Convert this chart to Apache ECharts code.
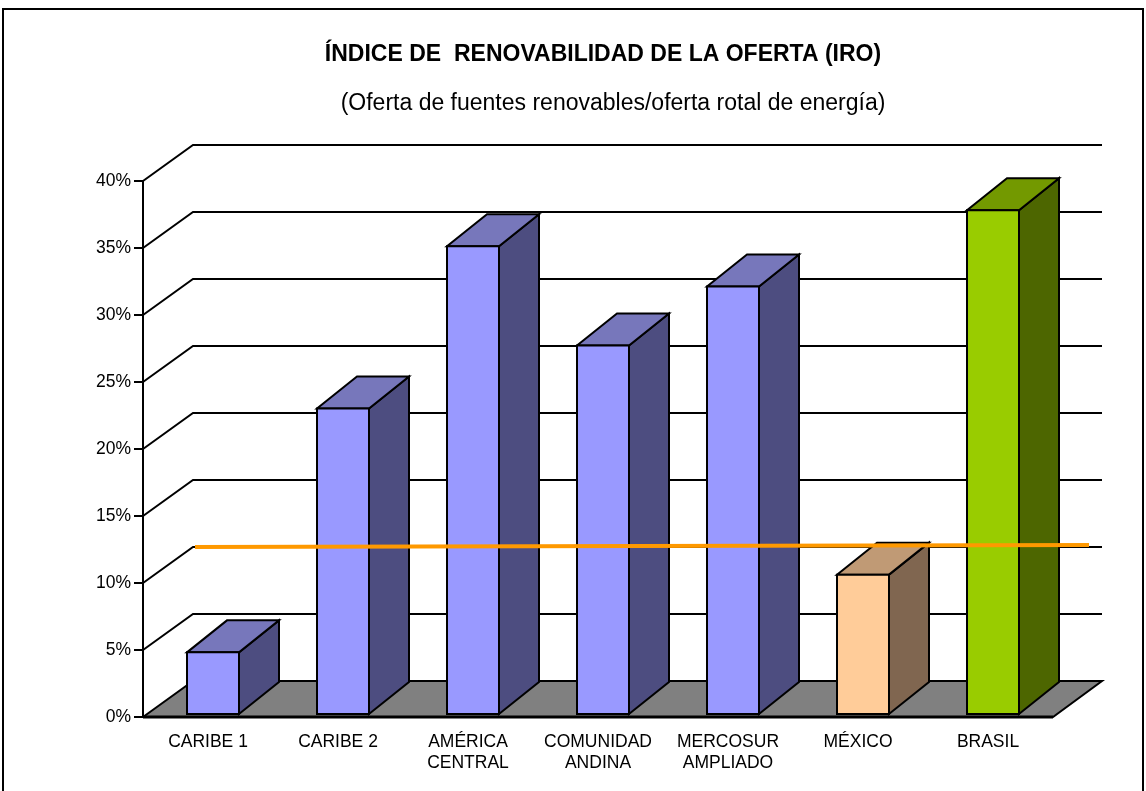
<!DOCTYPE html>
<html>
<head>
<meta charset="utf-8">
<script src="https://cdn.jsdelivr.net/npm/echarts@6/dist/echarts.min.js"></script>
<style>
html, body { margin: 0; padding: 0; background: #fff; }
#main { width: 1146px; height: 791px; }
</style>
</head>
<body>
<div id="main"></div>
<script>
// datos
var categories = ['CARIBE 1', 'CARIBE 2', 'AMÉRICA\nCENTRAL', 'COMUNIDAD\nANDINA', 'MERCOSUR\nAMPLIADO', 'MÉXICO', 'BRASIL'];
var iroValues = [4.6, 22.8, 34.9, 27.5, 31.9, 10.4, 37.6];
var yTicks = [0, 5, 10, 15, 20, 25, 30, 35, 40];
var refLine = [10.0, 10.15]; // linea naranja (inicio, fin) sobre la pared del fondo

// estilos 3d
var DEPTH = [50, -36];      // profundidad del piso
var BAR_FRONT = [5, -3];    // cara frontal de la barra
var BAR_DEPTH = [40, -32];  // profundidad de la barra
var blue = { front: '#9999FF', top: '#7777BB', side: '#4D4D80' };
var barColors = [blue, blue, blue, blue, blue,
    { front: '#FFCC99', top: '#C09A75', side: '#806650' },
    { front: '#99CC00', top: '#739900', side: '#4D6600' }];

var dom = document.getElementById('main');
var myChart = echarts.init(dom);
var font = 'Liberation Sans, Arial, sans-serif';

function gridRender(params, api) {
    var cs = params.coordSys;
    var y = api.coord([0, api.value(1)])[1];
    if (api.value(1) === 0) return null;
    return {
        type: 'polyline',
        shape: { points: [[cs.x, y], [cs.x + DEPTH[0], y + DEPTH[1]], [cs.x + cs.width + DEPTH[0] - 1, y + DEPTH[1]]] },
        style: { fill: null, stroke: '#000', lineWidth: 2 }
    };
}

function floorRender(params, api) {
    var cs = params.coordSys;
    var y = api.coord([0, 0])[1];
    var x0 = cs.x, x1 = cs.x + cs.width;
    return {
        type: 'group',
        children: [{
            type: 'polygon',
            shape: { points: [[x0, y], [x0 + DEPTH[0], y + DEPTH[1]], [x1 + DEPTH[0] - 1, y + DEPTH[1]], [x1, y]] },
            style: { fill: '#808080', stroke: '#000', lineWidth: 2 }
        }, {
            type: 'line',
            shape: { x1: x0, y1: y, x2: x1, y2: y },
            style: { stroke: '#000', lineWidth: 3 }
        }]
    };
}

function barRender(params, api) {
    var idx = api.value(0);
    var top = api.coord([idx, api.value(1)]);
    var base = api.coord([idx, 0]);
    var w = api.size([1, 0])[0] * 0.4;
    var c = barColors[idx];
    var x0 = top[0] - w / 2 + BAR_FRONT[0];
    var x1 = x0 + w;
    var yT = top[1] + BAR_FRONT[1];
    var yB = base[1] + BAR_FRONT[1];
    var dx = BAR_DEPTH[0], dy = BAR_DEPTH[1];
    var st = { stroke: '#000', lineWidth: 2, lineJoin: 'miter' };
    return {
        type: 'group',
        children: [{
            type: 'polygon',
            shape: { points: [[x1, yT], [x1 + dx, yT + dy], [x1 + dx, yB + dy], [x1, yB]] },
            style: Object.assign({ fill: c.side }, st)
        }, {
            type: 'polygon',
            shape: { points: [[x0, yT], [x1, yT], [x1 + dx, yT + dy], [x0 + dx, yT + dy]] },
            style: Object.assign({ fill: c.top }, st)
        }, {
            type: 'rect',
            shape: { x: x0, y: yT, width: w, height: yB - yT },
            style: Object.assign({ fill: c.front }, st)
        }]
    };
}

function refRender(params, api) {
    var cs = params.coordSys;
    var yA = api.coord([0, api.value(1)])[1] + DEPTH[1];
    var yB = api.coord([0, api.value(2)])[1] + DEPTH[1];
    return {
        type: 'line',
        shape: { x1: cs.x + DEPTH[0] + 2, y1: yA, x2: cs.x + cs.width + DEPTH[0] - 14, y2: yB },
        style: { stroke: '#FF9900', lineWidth: 4 }
    };
}

option = {
    backgroundColor: '#fff',
    animation: false,
    title: [{
        text: 'ÍNDICE DE  RENOVABILIDAD DE LA OFERTA (IRO)',
        left: 598, top: 38, textAlign: 'center',
        textStyle: { fontFamily: font, fontSize: 23, fontWeight: 'bold', color: '#000' }
    }, {
        text: '(Oferta de fuentes renovables/oferta rotal de energía)',
        left: 608, top: 87, textAlign: 'center',
        textStyle: { fontFamily: font, fontSize: 23, fontWeight: 'normal', color: '#000' }
    }],
    graphic: [{
        type: 'rect',
        shape: { x: 3, y: 9, width: 1140, height: 800 },
        style: { fill: null, stroke: '#000', lineWidth: 2 }
    }],
    grid: { left: 143, right: 93, top: 181, bottom: 74 },
    xAxis: {
        type: 'category',
        data: categories,
        axisLine: { show: false },
        axisTick: { show: false },
        axisLabel: { interval: 0, margin: 15, fontFamily: font, fontSize: 17.5, lineHeight: 21, color: '#000' }
    },
    yAxis: {
        type: 'value',
        min: 0, max: 40, interval: 5,
        z: 10,
        axisLine: { show: true, lineStyle: { color: '#000', width: 2 } },
        axisTick: { show: true, length: 9, lineStyle: { color: '#000', width: 2 } },
        axisLabel: { margin: 12, formatter: '{value}%', fontFamily: font, fontSize: 17.5, color: '#000' },
        splitLine: { show: false }
    },
    series: [{
        type: 'custom', name: 'grid', z: 1, silent: true,
        renderItem: gridRender,
        data: yTicks.map(function (v) { return [0, v]; })
    }, {
        type: 'custom', name: 'floor', z: 2, silent: true,
        renderItem: floorRender,
        data: [[0, 0]]
    }, {
        type: 'custom', name: 'IRO', z: 3,
        renderItem: barRender,
        data: iroValues.map(function (v, i) { return [i, v]; })
    }, {
        type: 'custom', name: 'ref', z: 4, silent: true,
        renderItem: refRender,
        data: [[0, refLine[0], refLine[1]]]
    }]
};
if (option && typeof option === "object") {
    myChart.setOption(option, true);
}
</script>
</body>
</html>
